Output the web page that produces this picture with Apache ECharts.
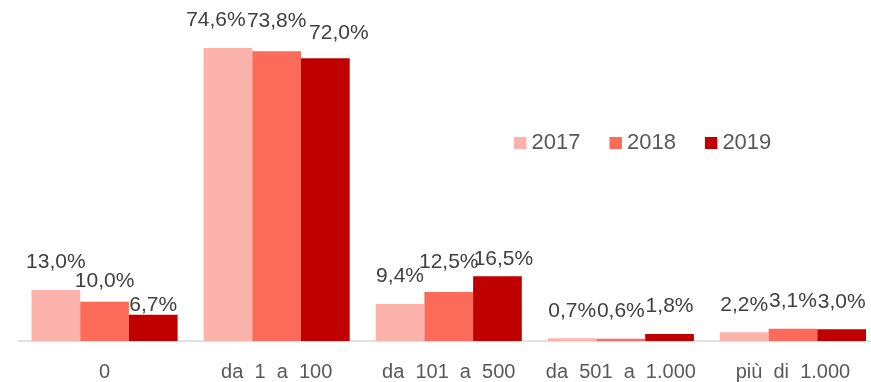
<!DOCTYPE html>
<html>
<head>
<meta charset="utf-8">
<script src="https://cdn.jsdelivr.net/npm/echarts@6/dist/echarts.min.js"></script>
<style>
  html, body { margin: 0; padding: 0; background: #ffffff; overflow: hidden; }
  /* plot runs slightly past the right edge of the window */
  #chart { width: 880px; height: 382px; }
</style>
</head>
<body>
<div id="chart"></div>
<script>
// Categories (x axis) and yearly shares in percent
const categories = ['0', 'da 1 a 100', 'da 101 a 500', 'da 501 a 1.000', 'più di 1.000'];
const years = ['2017', '2018', '2019'];
const values2017 = [13.0, 74.6, 9.4, 0.7, 2.2];
const values2018 = [10.0, 73.8, 12.5, 0.6, 3.1];
const values2019 = [6.7, 72.0, 16.5, 1.8, 3.0];

// Label nudges [dx, dy] in px, to keep crowded labels apart
const nudge2017 = [[0, 0], [-12, 0], [0, 0], [0, 0], [0, 0]];
const nudge2018 = [[0, 7], [0, -3], [0, -2.5], [0, 0], [0, 0]];
const nudge2019 = [[0, 18], [13.5, 2], [6, 10], [0, 0], [0, 0]];

const colors = ['#FDB3AC', '#FC6A5A', '#C00000'];
const FONT = '"Liberation Sans", Arial, sans-serif';

function fmt(v) {
  return v.toFixed(1).replace('.', ',') + '%';
}

function buildSeries(name, values, nudges, color) {
  return {
    name: name,
    type: 'bar',
    barWidth: 48.7,
    barGap: '0%',
    itemStyle: { color: color },
    label: {
      show: true,
      position: 'top',
      distance: 17,
      fontFamily: FONT,
      fontSize: 21,
      color: '#404040',
      formatter: p => fmt(p.value)
    },
    data: values.map((v, i) => ({ value: v, label: { offset: nudges[i] } }))
  };
}

const chart = echarts.init(document.getElementById('chart'), null, { renderer: 'canvas' });
chart.setOption({
  animation: false,
  backgroundColor: '#ffffff',
  textStyle: { fontFamily: FONT },
  grid: { left: 18.5, right: 1, top: 26.9, bottom: 40.7, containLabel: false },
  legend: {
    data: years,
    icon: 'rect',
    itemWidth: 12.5,
    itemHeight: 12,
    itemGap: 29,
    left: 514,
    top: 132,
    padding: 0,
    textStyle: { fontFamily: FONT, fontSize: 22, color: '#595959' }
  },
  xAxis: {
    type: 'category',
    data: categories,
    axisTick: { show: false },
    axisLine: { lineStyle: { color: '#D9D9D9', width: 1.5 } },
    axisLabel: {
      interval: 0,
      margin: 21,
      fontFamily: FONT,
      fontSize: 20,
      color: '#595959',
      // wide word spacing in the category names
      formatter: s => s.replace(/ /g, '  ')
    }
  },
  yAxis: {
    type: 'value',
    min: 0,
    max: 80,
    show: false,
    splitLine: { show: false }
  },
  series: [
    buildSeries(years[0], values2017, nudge2017, colors[0]),
    buildSeries(years[1], values2018, nudge2018, colors[1]),
    buildSeries(years[2], values2019, nudge2019, colors[2])
  ]
});
</script>
</body>
</html>
